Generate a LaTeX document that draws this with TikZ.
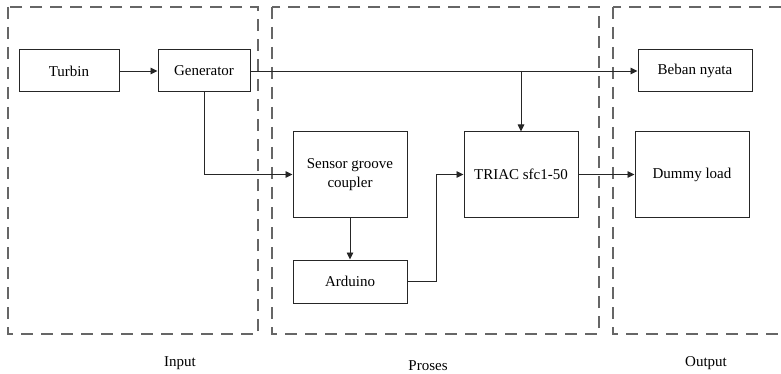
\documentclass[tikz,border=0pt]{standalone}
\usepackage{fontspec}
\setmainfont{Liberation Serif}
\usetikzlibrary{arrows.meta}
\begin{document}
\begin{tikzpicture}[x=1pt,y=-1pt,
  blk/.style={draw=black!85,line width=1pt,rectangle,inner sep=2pt,align=center,font=\fontsize{15}{19}\selectfont},
  arr/.style={draw=black!85,line width=0.9pt,-{Triangle[length=7pt,width=6.5pt]}},
  grp/.style={draw=black!60,line width=1.4pt,dash pattern=on 12pt off 8pt},
  lbl/.style={font=\fontsize{15}{19}\selectfont}]
\useasboundingbox (0,0) rectangle (781,374);
\clip (0,0) rectangle (781,374);
\fill[white] (0,0) rectangle (781,374);
% groups
\draw[grp] (8,7) rectangle (258,334);
\draw[grp] (272,7) rectangle (599,334);
\draw[grp] (613,7) rectangle (800,334);
% blocks
\node[blk,minimum width=100pt,minimum height=42pt] (tur) at (69,71) {Turbin};
\node[blk,minimum width=92pt,minimum height=42pt] (gen) at (204,71) {Generator};
\node[blk,minimum width=114pt,minimum height=42pt] (beb) at (695,71) {Beban nyata};
\node[blk,minimum width=114pt,minimum height=85pt] (sen) at (350,174.5) {Sensor groove\\coupler};
\node[blk,minimum width=114pt,minimum height=85pt] (tri) at (521,174.5) {TRIAC sfc1-50};
\node[blk,minimum width=114pt,minimum height=43pt] (ard) at (350,281.5) {Arduino};
\node[blk,minimum width=114pt,minimum height=85pt] (dum) at (692,174.5) {Dummy load};
% connectors
\draw[arr] (tur) -- (gen);
\draw[arr] (gen) -- (beb);
\coordinate (j) at (tri.north |- gen.east);
\draw[arr] (j) -- (tri);
\draw[arr] (gen) |- (sen);
\draw[arr] (sen) -- (ard);
\coordinate (k) at (436,281.5);
\draw[arr] (ard.east) -- (k) |- (tri.west);
\draw[arr] (tri) -- (dum);
% labels
\node[lbl] (lin) at (180,363) {Input};
\node[lbl] (lpr) at (428,366) {Proses};
\node[lbl] (lout) at (706,363) {Output};
\end{tikzpicture}
\end{document}
